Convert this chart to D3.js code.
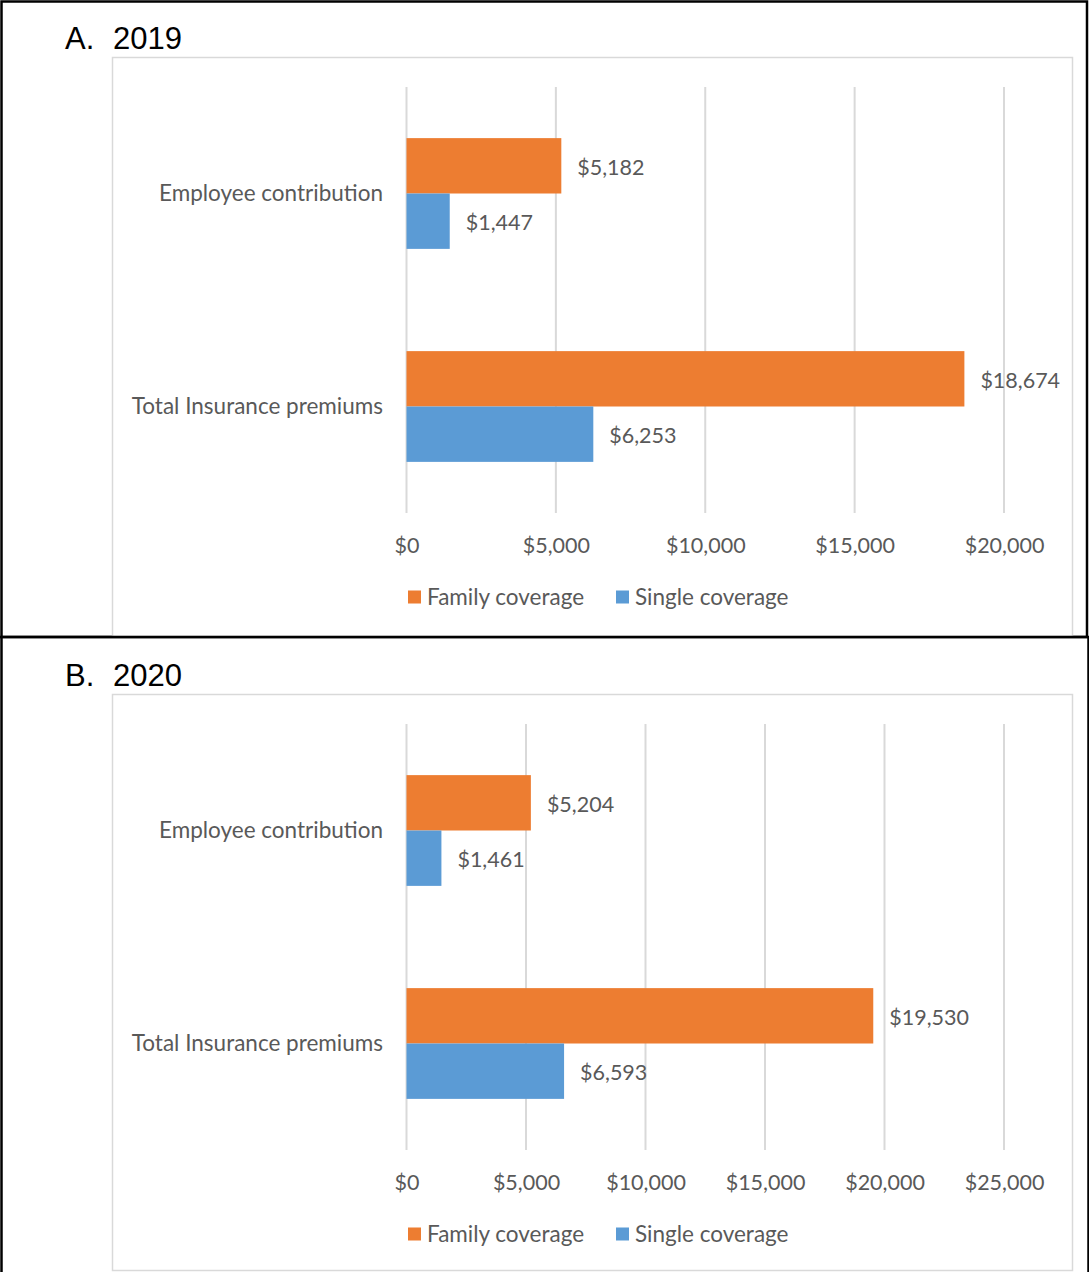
<!DOCTYPE html>
<html>
<head>
<meta charset="utf-8">
<script src="https://cdn.jsdelivr.net/npm/d3@7"></script>
<style>
  html, body { margin: 0; padding: 0; background: #fff; }
  svg { display: block; }
</style>
</head>
<body>
<svg id="chart" width="1089" height="1272"></svg>
<script>
// Health insurance premiums and employee contributions, 2019 vs 2020
const categories = ["Employee contribution", "Total Insurance premiums"];
const seriesNames = ["Family coverage", "Single coverage"];
const seriesColors = ["#ED7D31", "#5B9BD5"];

const family2019 = [5182, 18674];
const single2019 = [1447, 6253];
const family2020 = [5204, 19530];
const single2020 = [1461, 6593];

const ticks2019 = [0, 5000, 10000, 15000, 20000];
const ticks2020 = [0, 5000, 10000, 15000, 20000, 25000];

const panelLabels = ["A.", "B."];
const panelYears = ["2019", "2020"];

const svg = d3.select("#chart");
const fmt = d3.format("$,");
const textColor = "#595959";
const font = "Lato, 'Open Sans', sans-serif";
const wordSize = 22.5, numSize = 21.5;

// outer black boxes
svg.append("rect").attr("x", 1.5).attr("y", 1.5).attr("width", 1085.5).attr("height", 635.5)
  .attr("fill", "none").attr("stroke", "#000").attr("stroke-width", 2.5);
svg.append("line").attr("x1", 1.5).attr("x2", 1.5).attr("y1", 637).attr("y2", 1272)
  .attr("stroke", "#000").attr("stroke-width", 2.5);
svg.append("line").attr("x1", 1088.5).attr("x2", 1088.5).attr("y1", 637).attr("y2", 1272)
  .attr("stroke", "#000").attr("stroke-width", 2.5);

function drawPanel(opts) {
  const { top, frameBottom, family, single, ticks, label, year } = opts;
  const g = svg.append("g");

  // panel heading
  g.append("text").attr("x", 65).attr("y", top - 8)
    .attr("font-family", "'Liberation Sans', Arial, sans-serif").attr("font-size", 31)
    .attr("fill", "#000").text(label);
  g.append("text").attr("x", 113).attr("y", top - 8)
    .attr("font-family", "'Liberation Sans', Arial, sans-serif").attr("font-size", 31)
    .attr("fill", "#000").text(year);

  // chart area frame
  g.append("rect").attr("x", 112.5).attr("y", top + 0.5)
    .attr("width", 960).attr("height", frameBottom - top)
    .attr("fill", "#fff").attr("stroke", "#d9d9d9").attr("stroke-width", 1.5);

  const plotTop = top + 30, plotBottom = top + 456;
  const x = d3.scaleLinear().domain([0, d3.max(ticks)]).range([406.5, 1004]);
  const y = d3.scaleBand().domain(categories).range([plotTop, plotBottom])
    .paddingInner(0.48).paddingOuter(0.24);
  const ys = d3.scaleBand().domain(seriesNames).range([0, y.bandwidth()]);

  // vertical gridlines
  g.append("g").selectAll("line").data(ticks).join("line")
    .attr("x1", d => x(d)).attr("x2", d => x(d))
    .attr("y1", plotTop).attr("y2", plotBottom)
    .attr("stroke", "#d9d9d9").attr("stroke-width", 2);

  // x axis tick labels
  const xAxis = d3.axisBottom(x).tickValues(ticks).tickFormat(fmt).tickSize(0).tickPadding(0);
  const ax = g.append("g").attr("transform", `translate(0,${plotBottom + 32})`).call(xAxis);
  ax.select(".domain").remove();
  ax.selectAll("text").attr("font-family", font).attr("font-size", numSize)
    .attr("fill", textColor).attr("dy", "0.35em").attr("y", 0);

  // category labels
  g.append("g").selectAll("text").data(categories).join("text")
    .attr("x", 383).attr("y", d => y(d) + y.bandwidth() / 2)
    .attr("dy", "0.35em").attr("text-anchor", "end")
    .attr("font-family", font).attr("font-size", wordSize).attr("fill", textColor)
    .text(d => d);

  const rows = [];
  categories.forEach((c, i) => {
    rows.push({ cat: c, series: seriesNames[0], value: family[i], color: seriesColors[0] });
    rows.push({ cat: c, series: seriesNames[1], value: single[i], color: seriesColors[1] });
  });

  // bars
  g.append("g").selectAll("rect").data(rows).join("rect")
    .attr("x", x(0)).attr("y", d => y(d.cat) + ys(d.series))
    .attr("width", d => x(d.value) - x(0)).attr("height", ys.bandwidth())
    .attr("fill", d => d.color);

  // value labels
  g.append("g").selectAll("text").data(rows).join("text")
    .attr("x", d => x(d.value) + 16)
    .attr("y", d => y(d.cat) + ys(d.series) + ys.bandwidth() / 2 + 1.5)
    .attr("dy", "0.35em")
    .attr("font-family", font).attr("font-size", numSize).attr("fill", textColor)
    .text(d => fmt(d.value));

  // legend
  const legY = plotBottom + 84;
  const legX = [408, 616];
  const leg = g.append("g").selectAll("g").data(seriesNames).join("g")
    .attr("transform", (d, i) => `translate(${legX[i]},${legY})`);
  leg.append("rect").attr("x", 0).attr("y", -6.5).attr("width", 13).attr("height", 13)
    .attr("fill", (d, i) => seriesColors[i]);
  leg.append("text").attr("x", 19).attr("y", 0).attr("dy", "0.35em")
    .attr("font-family", font).attr("font-size", wordSize).attr("fill", textColor)
    .text(d => d);
}

drawPanel({ top: 57, frameBottom: 636, family: family2019, single: single2019,
  ticks: ticks2019, label: panelLabels[0], year: panelYears[0] });
drawPanel({ top: 694, frameBottom: 1270, family: family2020, single: single2020,
  ticks: ticks2020, label: panelLabels[1], year: panelYears[1] });

// separator between the two panels
svg.append("line").attr("x1", 0).attr("x2", 1089).attr("y1", 637).attr("y2", 637)
  .attr("stroke", "#000").attr("stroke-width", 2.5);
</script>
</body>
</html>
